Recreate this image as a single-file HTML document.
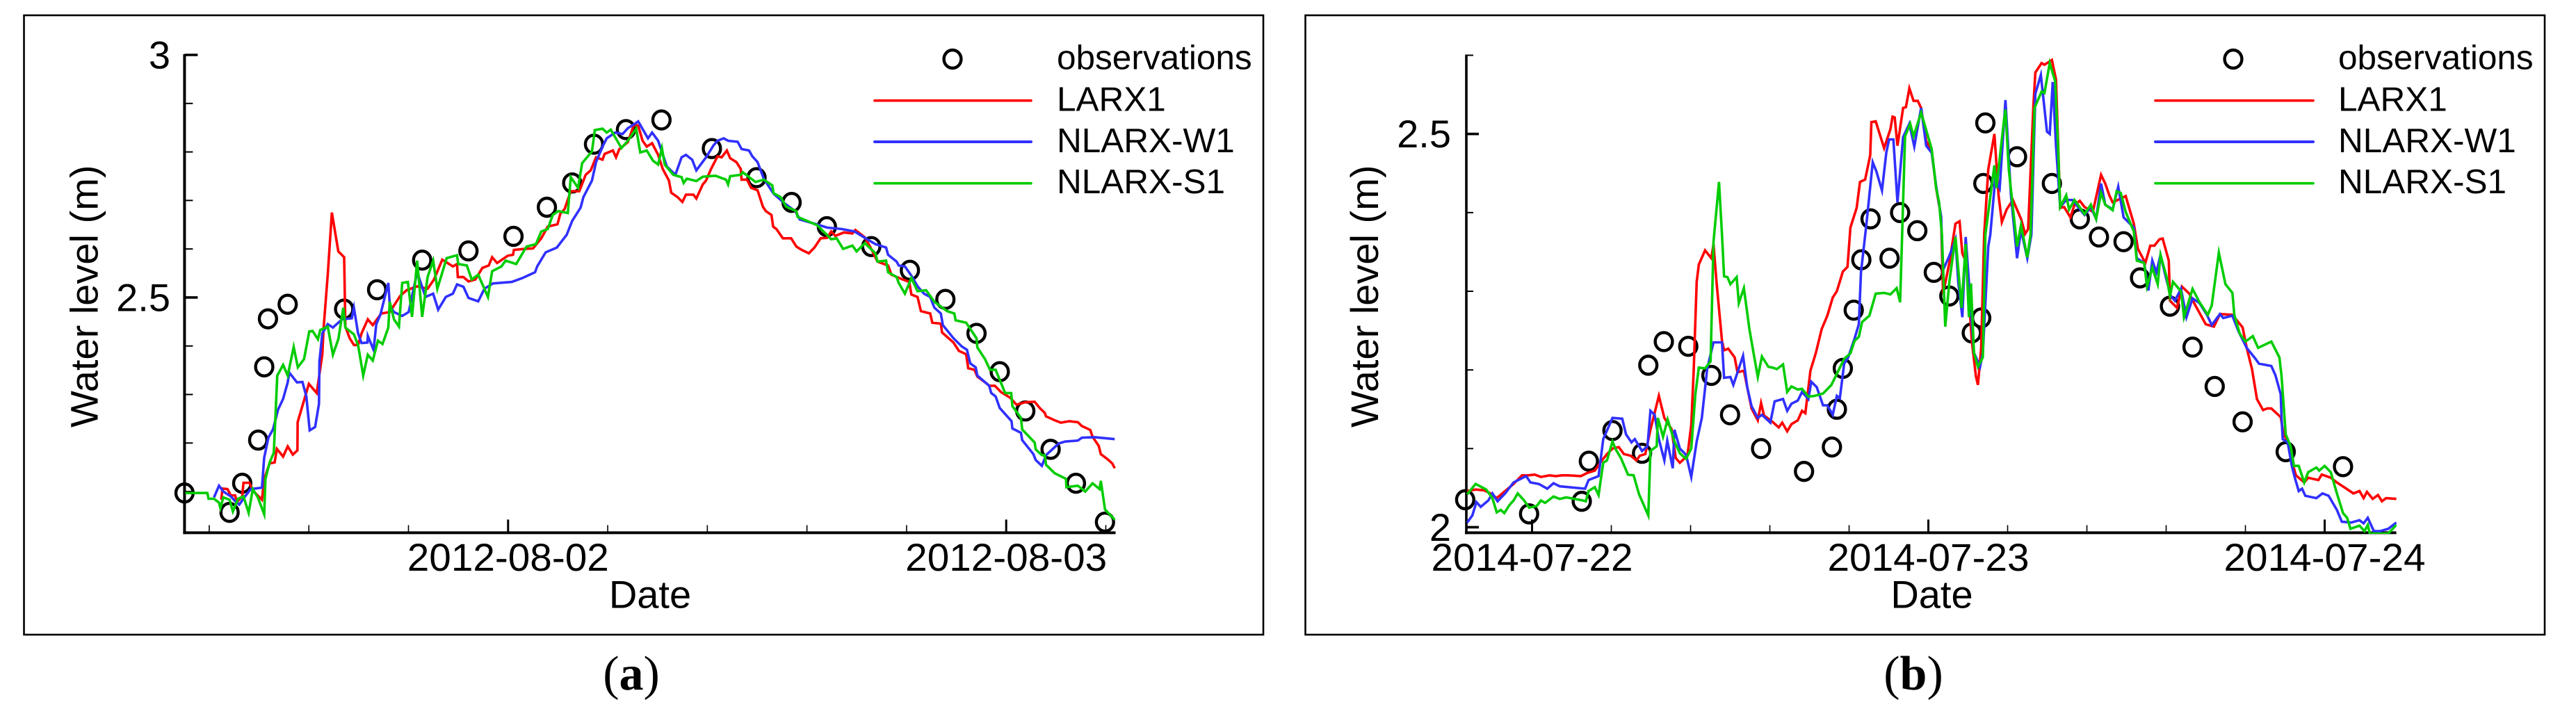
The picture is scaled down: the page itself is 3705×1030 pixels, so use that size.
<!DOCTYPE html>
<html lang="en">
<head>
<meta charset="utf-8">
<title>Water level observations and model predictions</title>
<style>
html,body{margin:0;padding:0;background:#fff;width:3705px;height:1030px;overflow:hidden}
svg{display:block;font-family:"Liberation Sans",sans-serif}
text{fill:#000}
.tick-label{font-size:56px}
.title{font-size:56px}
.legend-text{font-size:49.5px}
.caption{font-family:"Liberation Serif",serif;font-size:70px}
</style>
</head>
<body>
<svg id="figure" xmlns="http://www.w3.org/2000/svg" width="3705" height="1030" viewBox="0 0 3705 1030">
  <defs>
    <clipPath id="clip-a"><rect x="263" y="70" width="1342" height="698"/></clipPath>
    <clipPath id="clip-b"><rect x="2107" y="70" width="1340" height="698"/></clipPath>
  </defs>

  <g id="panel-a">
    <rect x="34.5" y="22" width="1782.5" height="891" fill="none" stroke="#000" stroke-width="2.6"/>
    <text class="title" transform="translate(140.5,615) rotate(-90)">Water level (m)</text>
    <text class="title" x="935" y="874.5" text-anchor="middle">Date</text>
    <g>
      <ellipse cx="1370" cy="85" rx="12.4" ry="13" fill="none" stroke="#000" stroke-width="4.4"/>
      <text class="legend-text" x="1520" y="99.5">observations</text>
      <line x1="1258" x2="1483" y1="144.7" y2="144.7" stroke="#ff0000" stroke-width="3.6" stroke-linecap="round"/>
      <text class="legend-text" x="1520" y="159.5">LARX1</text>
      <line x1="1258" x2="1483" y1="204" y2="204" stroke="#3030ff" stroke-width="4" stroke-linecap="round"/>
      <text class="legend-text" x="1520" y="219">NLARX-W1</text>
      <line x1="1258" x2="1483" y1="263.7" y2="263.7" stroke="#00cc00" stroke-width="3.6" stroke-linecap="round"/>
      <text class="legend-text" x="1520" y="278">NLARX-S1</text>
    </g>
    <text class="caption" x="908" y="992" text-anchor="middle">(<tspan font-weight="bold">a</tspan>)</text>
  </g>

  <g id="panel-b">
    <rect x="1877.5" y="22" width="1782.5" height="891" fill="none" stroke="#000" stroke-width="2.6"/>
    <text class="title" transform="translate(1982,615) rotate(-90)">Water level (m)</text>
    <text class="title" x="2778.5" y="874.5" text-anchor="middle">Date</text>
    <g>
      <ellipse cx="3212" cy="85" rx="12.4" ry="13" fill="none" stroke="#000" stroke-width="4.4"/>
      <text class="legend-text" x="3363" y="99.5">observations</text>
      <line x1="3100" x2="3327" y1="144.7" y2="144.7" stroke="#ff0000" stroke-width="3.6" stroke-linecap="round"/>
      <text class="legend-text" x="3363" y="159.5">LARX1</text>
      <line x1="3100" x2="3327" y1="204" y2="204" stroke="#3030ff" stroke-width="4" stroke-linecap="round"/>
      <text class="legend-text" x="3363" y="219">NLARX-W1</text>
      <line x1="3100" x2="3327" y1="263.7" y2="263.7" stroke="#00cc00" stroke-width="3.6" stroke-linecap="round"/>
      <text class="legend-text" x="3363" y="278">NLARX-S1</text>
    </g>
    <text class="caption" x="2752" y="992" text-anchor="middle">(<tspan font-weight="bold">b</tspan>)</text>
  </g>
</svg>

<script>
// Panel (a) axis ticks. Hours are measured from 2012-08-02 00:00.
const aMajorXHours = [0, 24];
const aMajorXLabels = ["2012-08-02", "2012-08-03"];
const aMinorXHours = [-14.4, -9.6, -4.8, 4.8, 9.6, 14.4, 19.2, 28.8];
const aMajorYLevels = [3, 2.5];
const aMajorYLabels = ["3", "2.5"];
const aMinorYLevels = [2.9, 2.8, 2.7, 2.6, 2.4, 2.3, 2.2, 2.1];

// Panel (a) observations
const aObsHours = [-15.59,-13.42,-12.81,-12.04,-11.75,-11.57,-10.62,-7.9,-6.31,-4.14,-1.91,0.26,1.87,3.09,4.14,5.68,7.39,9.82,11.97,13.66,15.36,17.5,19.36,21.07,22.57,23.69,24.92,26.14,27.36,28.76];
const aObsLevels = [2.097,2.057,2.117,2.206,2.357,2.456,2.486,2.476,2.516,2.577,2.596,2.626,2.686,2.736,2.816,2.846,2.866,2.807,2.747,2.696,2.646,2.605,2.556,2.496,2.426,2.347,2.266,2.187,2.117,2.037];

// Panel (a) LARX1
const aLarxHours = [-13.82,-13.76,-13.52,-13.36,-13.15,-13.07,-12.81,-12.75,-12.46,-12.3,-11.86,-11.75,-11.49,-11.25,-11.14,-10.84,-10.62,-10.37,-10.15,-10.14,-9.83,-9.6,-9.22,-8.95,-8.89,-8.69,-8.49,-8.18,-7.9,-7.84,-7.63,-7.43,-7.23,-7.06,-6.76,-6.52,-6.11,-5.7,-5.2,-4.89,-4.38,-3.88,-3.57,-3.17,-2.66,-2.46,-2.42,-2.15,-1.91,-1.58,-1.24,-0.93,-0.77,-0.53,-0.02,0.24,0.28,0.79,1.2,1.6,1.91,2.38,2.52,2.72,3.02,3.43,3.74,3.98,4.24,4.55,4.65,5.05,5.2,5.36,5.77,6.07,6.27,6.48,6.68,6.94,7.23,7.45,7.75,7.86,8.16,8.4,8.57,8.93,9.07,9.38,9.54,9.78,10.09,10.29,10.54,10.7,11,11.21,11.25,11.51,11.71,12.02,12.28,12.42,12.69,12.77,12.93,13.24,13.64,13.89,14.15,14.49,14.76,15.06,15.37,15.57,15.77,16.18,16.59,16.73,17.19,17.5,17.8,18.31,18.47,19.02,19.33,19.43,19.73,19.89,20.34,20.44,20.85,20.91,21.46,21.72,22.07,22.17,22.47,22.61,23.08,23.18,23.45,23.75,24.2,24.5,24.91,25.37,25.62,25.86,25.92,26.33,26.63,27.04,27.45,27.65,28.05,28.16,28.46,28.56,28.87,29.11,29.23];
const aLarxLevels = [2.083,2.106,2.105,2.092,2.092,2.078,2.09,2.118,2.118,2.102,2.083,2.126,2.158,2.16,2.188,2.172,2.193,2.176,2.185,2.243,2.288,2.322,2.303,2.383,2.436,2.547,2.675,2.595,2.583,2.44,2.416,2.402,2.402,2.426,2.455,2.443,2.467,2.47,2.503,2.515,2.523,2.518,2.537,2.578,2.564,2.569,2.542,2.542,2.533,2.537,2.561,2.566,2.583,2.571,2.586,2.588,2.598,2.6,2.601,2.622,2.646,2.651,2.673,2.682,2.719,2.719,2.753,2.762,2.789,2.784,2.796,2.803,2.789,2.806,2.82,2.857,2.854,2.823,2.811,2.818,2.794,2.765,2.741,2.716,2.707,2.697,2.712,2.712,2.704,2.733,2.741,2.765,2.791,2.789,2.803,2.787,2.779,2.765,2.743,2.743,2.726,2.721,2.687,2.678,2.67,2.646,2.641,2.622,2.622,2.605,2.598,2.591,2.603,2.622,2.623,2.636,2.627,2.634,2.632,2.639,2.624,2.6,2.574,2.566,2.547,2.537,2.532,2.506,2.501,2.472,2.467,2.448,2.446,2.428,2.407,2.39,2.383,2.354,2.351,2.337,2.322,2.318,2.318,2.305,2.293,2.279,2.284,2.285,2.272,2.262,2.255,2.247,2.242,2.245,2.243,2.235,2.227,2.213,2.194,2.177,2.167,2.158,2.148];

// Panel (a) NLARX-W1
const aWaveHours = [-14.17,-13.93,-13.72,-13.36,-13.15,-12.95,-12.71,-12.4,-11.86,-11.75,-11.55,-11.33,-11.08,-10.84,-10.62,-10.54,-10.17,-9.91,-9.72,-9.56,-9.3,-9.11,-9.09,-8.95,-8.69,-8.44,-8,-7.53,-7.43,-7.23,-7.06,-6.78,-6.76,-6.48,-6.35,-6.15,-5.77,-5.7,-5.5,-5.1,-4.79,-4.38,-3.98,-3.61,-3.37,-3,-2.66,-2.46,-2.15,-1.91,-1.44,-1.14,-0.73,0.18,0.69,1.3,1.4,1.81,2.35,2.82,3.09,3.49,3.63,4.04,4.24,4.55,4.75,5.16,5.52,5.77,6.07,6.27,6.74,6.94,7.23,7.65,8.06,8.36,8.57,8.87,9.07,9.54,9.89,10.09,10.39,10.6,11.06,11.25,11.61,11.77,12.02,12.32,12.79,13.24,13.54,13.84,14.05,14.45,14.86,15.37,16.08,16.69,17.3,17.7,18.21,18.31,18.72,18.82,19.12,19.43,19.73,20.04,20.34,20.54,20.85,20.95,21.46,21.86,22.11,22.27,22.53,22.61,23.18,23.28,23.49,23.69,24.26,24.3,24.71,24.77,25.31,25.42,25.72,25.92,26.53,26.84,27.45,27.65,28.26,29.23];
const aWaveLevels = [2.088,2.112,2.1,2.09,2.08,2.073,2.088,2.105,2.108,2.17,2.211,2.228,2.269,2.291,2.325,2.345,2.325,2.326,2.296,2.226,2.233,2.281,2.368,2.426,2.445,2.438,2.455,2.457,2.479,2.426,2.406,2.407,2.421,2.392,2.445,2.465,2.53,2.484,2.47,2.462,2.47,2.552,2.501,2.508,2.475,2.501,2.508,2.527,2.522,2.499,2.492,2.518,2.529,2.532,2.54,2.552,2.564,2.593,2.603,2.629,2.658,2.685,2.707,2.741,2.779,2.811,2.828,2.84,2.837,2.849,2.857,2.863,2.828,2.84,2.823,2.77,2.753,2.789,2.794,2.784,2.762,2.789,2.813,2.823,2.828,2.823,2.821,2.806,2.803,2.791,2.779,2.745,2.714,2.697,2.687,2.678,2.661,2.656,2.651,2.644,2.641,2.636,2.62,2.61,2.603,2.588,2.574,2.566,2.564,2.545,2.523,2.508,2.501,2.479,2.467,2.443,2.416,2.399,2.392,2.364,2.356,2.339,2.318,2.303,2.296,2.272,2.245,2.23,2.221,2.206,2.177,2.165,2.153,2.175,2.199,2.203,2.205,2.211,2.212,2.208];

// Panel (a) NLARX-S1
const aSigHours = [-15.55,-14.49,-14.43,-14.17,-13.93,-13.86,-13.72,-13.42,-13.26,-13.01,-12.75,-12.5,-12.3,-12.06,-11.75,-11.69,-11.49,-11.29,-11.12,-10.84,-10.62,-10.33,-10.13,-9.83,-9.58,-9.42,-9.16,-9.05,-8.69,-8.44,-8.18,-7.94,-7.84,-7.43,-7.23,-6.98,-6.76,-6.52,-6.27,-6.05,-5.77,-5.7,-5.5,-5.26,-5.1,-4.83,-4.63,-4.38,-4.14,-3.88,-3.61,-3.41,-2.96,-2.46,-2.4,-1.99,-1.75,-1.44,-0.97,-0.77,-0.32,-0.12,0.39,0.89,1.34,1.6,1.91,2.15,2.42,2.88,3.02,3.37,3.57,4.04,4.18,4.55,4.75,4.95,5.46,5.77,6.17,6.37,6.68,6.98,7.23,7.41,7.55,7.96,8.36,8.46,8.61,9.07,9.38,9.99,10.5,10.6,10.7,11.21,11.31,11.92,12.32,12.73,12.79,13.13,13.4,13.89,13.95,14.35,14.9,15.57,15.83,16.14,16.59,16.79,17.19,17.7,17.8,18.21,18.31,18.72,18.82,19.12,19.43,19.73,20.14,20.54,21.15,21.5,21.56,22.07,22.57,22.61,22.98,23.22,23.49,23.95,24.24,24.3,24.71,24.77,25.37,25.42,25.72,25.86,25.92,26.33,26.88,26.9,27.45,27.81,28.16,28.5,28.56,28.76,29.23];
const aSigLevels = [2.097,2.097,2.085,2.085,2.077,2.066,2.088,2.083,2.059,2.085,2.09,2.056,2.105,2.088,2.053,2.126,2.16,2.18,2.339,2.361,2.339,2.398,2.356,2.373,2.43,2.431,2.414,2.433,2.44,2.382,2.414,2.479,2.438,2.424,2.402,2.339,2.382,2.37,2.411,2.404,2.438,2.491,2.455,2.44,2.53,2.532,2.46,2.576,2.46,2.542,2.576,2.518,2.581,2.587,2.569,2.566,2.537,2.547,2.501,2.554,2.564,2.576,2.569,2.605,2.61,2.636,2.641,2.67,2.678,2.674,2.748,2.726,2.777,2.801,2.845,2.848,2.84,2.846,2.808,2.823,2.848,2.799,2.803,2.782,2.774,2.808,2.774,2.753,2.748,2.736,2.745,2.74,2.749,2.751,2.743,2.733,2.75,2.753,2.758,2.738,2.743,2.731,2.715,2.707,2.687,2.678,2.666,2.659,2.649,2.62,2.622,2.6,2.607,2.595,2.612,2.591,2.574,2.576,2.552,2.542,2.53,2.508,2.54,2.513,2.515,2.491,2.472,2.467,2.453,2.448,2.416,2.397,2.373,2.351,2.351,2.303,2.303,2.276,2.252,2.228,2.201,2.187,2.175,2.175,2.155,2.138,2.126,2.109,2.112,2.1,2.117,2.105,2.122,2.063,2.042];

// Panel (b) axis ticks. Hours are measured from 2014-07-22 00:00.
const bMajorXHours = [0, 24, 48];
const bMajorXLabels = ["2014-07-22", "2014-07-23", "2014-07-24"];
const bMinorXHours = [4.8, 9.6, 14.4, 19.2, 28.8, 33.6, 38.4, 43.2];
const bMajorYLevels = [2.5, 2];
const bMajorYLabels = ["2.5", "2"];
const bMinorYLevels = [2.6, 2.4, 2.3, 2.2, 2.1];

// Panel (b) observations
const bObsHours = [-4.05,-0.18,3.01,3.44,4.87,6.66,7.04,7.98,9.46,10.86,11.99,13.87,16.47,18.16,18.46,18.82,19.48,19.94,20.5,21.65,22.29,23.33,24.33,25.27,26.63,27.2,27.33,27.45,29.37,31.48,33.17,34.33,35.82,36.82,38.63,40,41.34,43.03,45.64,49.11];
const bObsLevels = [2.035,2.017,2.033,2.084,2.123,2.094,2.206,2.236,2.23,2.193,2.143,2.1,2.071,2.102,2.15,2.202,2.276,2.34,2.392,2.342,2.4,2.377,2.324,2.294,2.247,2.266,2.437,2.514,2.471,2.437,2.392,2.369,2.363,2.317,2.281,2.229,2.179,2.134,2.096,2.077];

// Panel (b) LARX1
const bLarxHours = [-3.93,-3.42,-2.91,-2.52,-2.14,-1.63,-1.12,-0.61,-0.23,0.15,0.54,1.05,1.43,1.81,2.19,2.96,3.34,3.8,4.03,4.23,4.54,4.87,5.25,5.56,5.97,6.32,6.53,6.86,7.17,7.68,8.01,8.44,8.7,8.95,9.41,9.64,9.79,9.97,10.1,10.48,10.86,10.99,11.17,11.5,11.63,11.88,12.27,12.44,12.83,13.03,13.29,13.67,13.87,14.05,14.56,14.94,15.15,15.45,15.71,16.09,16.35,16.55,16.86,17.19,17.54,17.88,18.21,18.46,18.82,19.1,19.28,19.66,19.86,20.17,20.48,20.55,20.81,21.32,21.7,21.83,21.96,22.13,22.47,22.64,22.85,23.1,23.36,23.56,23.87,24.2,24.47,24.77,24.89,25.27,25.64,25.89,26.06,26.38,26.51,26.63,26.88,27,27.2,27.38,27.63,28,28.25,28.45,28.74,29.12,29.61,29.86,30.04,30.36,30.48,30.86,31.03,31.48,31.73,31.85,31.98,32.22,32.6,32.85,33.17,33.46,33.96,34.46,34.71,34.96,35.16,35.95,36.44,36.69,37.14,37.44,37.69,37.99,38.19,38.56,38.63,39.06,39.35,39.8,40.17,40.8,41.29,41.66,42.41,43.03,43.28,43.6,43.9,44.27,44.52,44.77,45.34,45.51,45.94,46.08,46.26,46.76,47,47.62,47.82,48.37,48.74,49.24,49.74,50.11,50.36,50.56,50.91,51.23,51.47,51.72,52.34];
const bLarxLevels = [2.046,2.048,2.047,2.043,2.037,2.046,2.055,2.066,2.066,2.067,2.064,2.066,2.065,2.066,2.066,2.065,2.069,2.072,2.079,2.085,2.093,2.1,2.102,2.093,2.091,2.085,2.091,2.093,2.124,2.167,2.139,2.125,2.088,2.082,2.091,2.13,2.199,2.312,2.334,2.352,2.342,2.36,2.312,2.237,2.225,2.227,2.216,2.197,2.199,2.178,2.151,2.136,2.158,2.142,2.134,2.127,2.133,2.122,2.131,2.136,2.148,2.145,2.199,2.222,2.252,2.269,2.292,2.3,2.325,2.331,2.381,2.406,2.439,2.442,2.473,2.515,2.516,2.482,2.506,2.522,2.521,2.485,2.533,2.534,2.558,2.542,2.542,2.533,2.491,2.479,2.431,2.395,2.297,2.336,2.386,2.389,2.348,2.333,2.276,2.237,2.192,2.181,2.228,2.372,2.455,2.5,2.422,2.388,2.404,2.416,2.392,2.373,2.379,2.536,2.578,2.59,2.588,2.594,2.569,2.491,2.406,2.407,2.394,2.41,2.415,2.407,2.401,2.448,2.437,2.422,2.413,2.421,2.386,2.354,2.336,2.358,2.358,2.366,2.367,2.339,2.288,2.279,2.306,2.297,2.282,2.258,2.255,2.271,2.27,2.254,2.228,2.201,2.163,2.149,2.151,2.151,2.14,2.118,2.103,2.079,2.066,2.057,2.063,2.06,2.067,2.063,2.057,2.05,2.043,2.046,2.037,2.045,2.036,2.041,2.033,2.037,2.036];

// Panel (b) NLARX-W1
const bWaveHours = [-3.93,-3.62,-3.37,-3.11,-2.65,-2.4,-2.09,-1.63,-1.12,-0.36,-0.1,0.41,0.92,1.3,1.68,3.21,3.42,4.03,4.31,4.87,5.46,5.69,6.02,6.22,6.66,6.99,7.17,7.42,7.68,8.01,8.19,8.52,8.62,8.95,9.33,9.64,9.97,10.28,10.61,10.99,11.5,11.63,12.01,12.19,12.78,13.03,13.29,13.67,13.92,14.43,14.69,15.2,15.45,15.71,16.09,16.35,16.73,16.91,17.24,17.62,17.88,18.21,18.46,18.64,18.9,19.15,19.53,19.79,19.92,20.25,20.63,20.86,21.19,21.45,21.62,21.88,22.13,22.47,22.85,23.15,23.56,23.87,24.2,24.47,24.77,24.89,25.27,25.64,25.81,26.06,26.26,26.56,26.76,27.13,27.3,27.63,27.75,28.05,28.32,28.67,29,29.37,29.61,29.99,30.24,30.48,30.81,31.18,31.35,31.53,31.73,31.98,32.35,32.72,33.46,33.84,34.16,34.46,34.71,35.16,35.5,35.82,36.44,36.62,37.07,37.32,37.56,37.81,38.06,38.38,38.68,38.93,39.3,39.63,40,40.42,40.87,41.16,41.66,41.86,42.41,42.78,43.28,43.78,44.02,44.77,45.02,45.34,45.39,45.46,45.76,46.01,46.18,46.43,46.63,46.83,47.5,47.87,48.24,48.74,49.04,49.61,50.11,50.36,50.61,50.98,51.35,51.85,52.34];
const bWaveLevels = [2.006,2.015,2.032,2.026,2.034,2.043,2.033,2.043,2.057,2.065,2.057,2.055,2.049,2.056,2.052,2.049,2.06,2.065,2.112,2.139,2.138,2.118,2.108,2.112,2.097,2.103,2.148,2.143,2.112,2.085,2.11,2.075,2.124,2.1,2.092,2.064,2.109,2.139,2.202,2.235,2.235,2.19,2.191,2.181,2.218,2.178,2.154,2.139,2.143,2.133,2.16,2.163,2.148,2.157,2.161,2.172,2.163,2.185,2.178,2.155,2.155,2.143,2.167,2.164,2.208,2.216,2.24,2.258,2.324,2.386,2.464,2.452,2.428,2.476,2.493,2.493,2.413,2.496,2.513,2.484,2.533,2.485,2.476,2.434,2.395,2.327,2.345,2.366,2.312,2.267,2.369,2.282,2.222,2.204,2.222,2.357,2.372,2.443,2.431,2.543,2.422,2.342,2.378,2.342,2.372,2.551,2.575,2.503,2.5,2.566,2.485,2.407,2.416,2.416,2.397,2.407,2.392,2.437,2.41,2.404,2.433,2.394,2.381,2.342,2.336,2.301,2.339,2.324,2.346,2.318,2.294,2.288,2.303,2.267,2.291,2.285,2.27,2.257,2.271,2.266,2.269,2.249,2.228,2.215,2.208,2.205,2.193,2.169,2.139,2.112,2.108,2.078,2.064,2.046,2.049,2.04,2.037,2.043,2.04,2.022,2.007,2.006,2.009,2.005,2.012,1.995,1.995,1.998,2.006];

// Panel (b) NLARX-S1
const bSigHours = [-3.93,-3.42,-2.78,-2.4,-2.14,-1.89,-1.68,-1.38,-1.12,-0.87,-0.48,-0.18,0.28,0.54,0.79,1.3,1.68,2.07,3.09,3.26,3.42,3.8,4.03,4.31,4.54,4.87,5.07,5.38,5.81,6.15,6.48,7.04,7.17,7.55,7.62,7.93,8.21,8.62,8.95,9.33,9.64,9.89,10.1,10.48,10.81,10.99,11.32,11.5,11.63,11.83,12.01,12.39,12.52,12.83,13.16,13.41,13.67,13.92,14.31,14.56,14.82,15.2,15.45,15.71,16.09,16.35,16.73,17.11,17.62,18.13,18.9,19.28,19.53,19.79,19.99,20.43,20.81,21.32,21.7,22.08,22.29,22.59,22.9,23.1,23.56,24.2,24.47,24.65,24.82,25.02,25.27,25.64,26.01,26.26,26.46,26.58,26.76,27,27.3,27.45,28,28.12,28.55,28.67,28.87,29.37,29.61,29.99,30.19,30.43,30.86,31.03,31.35,31.68,31.85,31.98,32.35,32.52,32.85,33.46,33.84,34.16,34.46,34.71,35.16,35.4,35.65,35.95,36.44,36.62,37.07,37.24,37.56,37.89,38.06,38.43,38.63,38.81,39.3,39.48,40,40.42,40.92,41.16,41.59,41.99,42.41,42.53,42.86,43.2,43.65,43.97,44.77,45.26,45.39,45.64,45.94,46.14,46.43,46.76,47,47.5,47.67,48,48.37,48.74,49.11,49.36,49.56,50.11,50.41,50.61,50.73,51.85,52.34];
const bSigLevels = [2.042,2.055,2.048,2.037,2.019,2.022,2.018,2.028,2.034,2.043,2.034,2.025,2.027,2.034,2.031,2.039,2.036,2.038,2.034,2.033,2.046,2.051,2.041,2.082,2.085,2.109,2.099,2.088,2.067,2.066,2.042,2.015,2.097,2.103,2.139,2.115,2.137,2.109,2.094,2.087,2.1,2.169,2.203,2.202,2.211,2.363,2.439,2.372,2.319,2.318,2.309,2.318,2.285,2.304,2.252,2.222,2.191,2.217,2.204,2.203,2.201,2.207,2.172,2.179,2.175,2.176,2.166,2.167,2.17,2.181,2.214,2.221,2.237,2.242,2.261,2.269,2.297,2.298,2.296,2.304,2.286,2.497,2.513,2.497,2.527,2.481,2.431,2.413,2.372,2.255,2.312,2.369,2.279,2.36,2.267,2.31,2.222,2.204,2.216,2.372,2.46,2.431,2.512,2.531,2.455,2.357,2.384,2.343,2.372,2.533,2.554,2.552,2.59,2.567,2.485,2.407,2.422,2.404,2.416,2.398,2.41,2.392,2.425,2.41,2.403,2.427,2.425,2.401,2.376,2.339,2.336,2.306,2.33,2.309,2.346,2.318,2.294,2.312,2.3,2.267,2.303,2.286,2.27,2.282,2.349,2.309,2.298,2.27,2.246,2.236,2.243,2.228,2.236,2.216,2.192,2.118,2.103,2.078,2.078,2.057,2.07,2.076,2.072,2.078,2.07,2.043,2.018,2.012,1.998,2.002,1.995,2.003,1.992,1.992,2.003];

const SVG_NS = "http://www.w3.org/2000/svg";

function linearScale(domain, range) {
  return function (value) {
    return range[0] + (value - domain[0]) / (domain[1] - domain[0]) * (range[1] - range[0]);
  };
}

function addSvg(parent, tag, attrs) {
  const el = document.createElementNS(SVG_NS, tag);
  Object.keys(attrs).forEach(function (key) { el.setAttribute(key, attrs[key]); });
  parent.appendChild(el);
  return el;
}

function drawPanel(cfg) {
  const root = document.getElementById(cfg.id);
  const xScale = linearScale(cfg.xDomain, cfg.xRange);
  const yScale = linearScale(cfg.yDomain, cfg.yRange);

  const axisGroup = addSvg(root, "g", {});
  
  

  const yAxis = addSvg(axisGroup, "line", { x1: cfg.xRange[0], x2: cfg.xRange[0], y1: cfg.yRange[1] - 1, y2: cfg.yRange[0] + 2, stroke: "#000", "stroke-width": cfg.yAxisWidth });
  
  

  const xAxis = addSvg(axisGroup, "line", { x1: cfg.xRange[0] - 2, x2: cfg.xRange[1], y1: cfg.yRange[0], y2: cfg.yRange[0], stroke: "#000", "stroke-width": 4 });
  
  

  cfg.minorY.forEach(function (level) {
    const tick = addSvg(axisGroup, "line", { x1: cfg.xRange[0], x2: cfg.xRange[0] + cfg.minorYLen, y1: yScale(level), y2: yScale(level), stroke: "#000", "stroke-width": 2 });
    
    
  });

  cfg.majorY.forEach(function (level, i) {
    const tick = addSvg(axisGroup, "line", { x1: cfg.xRange[0], x2: cfg.xRange[0] + cfg.majorYLen, y1: yScale(level), y2: yScale(level), stroke: "#000", "stroke-width": 3.6 });
    
    
    const label = addSvg(axisGroup, "text", { x: cfg.yLabelX, y: yScale(level) + 19.5, "text-anchor": "end", "class": "tick-label" });
    
    
    label.textContent = cfg.majorYLabels[i];
  });

  cfg.minorX.forEach(function (hour) {
    const tick = addSvg(axisGroup, "line", { x1: xScale(hour), x2: xScale(hour), y1: cfg.yRange[0], y2: cfg.yRange[0] - 11, stroke: "#000", "stroke-width": 1.6 });
    
    
  });

  cfg.majorX.forEach(function (hour, i) {
    const tick = addSvg(axisGroup, "line", { x1: xScale(hour), x2: xScale(hour), y1: cfg.yRange[0], y2: cfg.yRange[0] - 19, stroke: "#000", "stroke-width": 3 });
    
    
    const label = addSvg(axisGroup, "text", { x: xScale(hour), y: 821, "text-anchor": "middle", "class": "tick-label", textLength: 290, lengthAdjust: "spacingAndGlyphs" });
    
    
    label.textContent = cfg.majorXLabels[i];
  });

  const obsGroup = addSvg(root, "g", {});
  
  
  cfg.obsHours.forEach(function (hour, i) {
    const dot = addSvg(obsGroup, "ellipse", { cx: xScale(hour), cy: yScale(cfg.obsLevels[i]), rx: 12.4, ry: 13, fill: "none", stroke: "#000", "stroke-width": 4.4 });
    
    
  });

  function drawLine(hours, levels, color, width) {
    const pts = hours.map(function (hour, i) {
      return xScale(hour).toFixed(1) + "," + yScale(levels[i]).toFixed(1);
    }).join(" ");
    return addSvg(root, "polyline", { points: pts, fill: "none", stroke: color, "stroke-width": width, "stroke-linejoin": "miter", "stroke-miterlimit": 6, "clip-path": "url(#" + cfg.clip + ")" });
  }

  const redLine = drawLine(cfg.larxHours, cfg.larxLevels, "#ff0000", 3.6);
  
  

  const blueLine = drawLine(cfg.waveHours, cfg.waveLevels, "#3030ff", 3.6);
  
  

  const greenLine = drawLine(cfg.sigHours, cfg.sigLevels, "#00cc00", 3.6);
  
  
}

drawPanel({
  id: "panel-a", clip: "clip-a",
  xDomain: [-15.59, 29.27], xRange: [265.4, 1604.5],
  yDomain: [2.015, 3], yRange: [766.4, 79],
  yAxisWidth: 4, majorYLen: 19, minorYLen: 12, yLabelX: 245,
  majorX: aMajorXHours, majorXLabels: aMajorXLabels, minorX: aMinorXHours,
  majorY: aMajorYLevels, majorYLabels: aMajorYLabels, minorY: aMinorYLevels,
  obsHours: aObsHours, obsLevels: aObsLevels,
  larxHours: aLarxHours, larxLevels: aLarxLevels,
  waveHours: aWaveHours, waveLevels: aWaveLevels,
  sigHours: aSigHours, sigLevels: aSigLevels
});

drawPanel({
  id: "panel-b", clip: "clip-b",
  xDomain: [-3.98, 52.34], xRange: [2109, 3446.6],
  yDomain: [1.993, 2.6], yRange: [766.4, 79.5],
  yAxisWidth: 3.6, majorYLen: 18, minorYLen: 10, yLabelX: 2087,
  majorX: bMajorXHours, majorXLabels: bMajorXLabels, minorX: bMinorXHours,
  majorY: bMajorYLevels, majorYLabels: bMajorYLabels, minorY: bMinorYLevels,
  obsHours: bObsHours, obsLevels: bObsLevels,
  larxHours: bLarxHours, larxLevels: bLarxLevels,
  waveHours: bWaveHours, waveLevels: bWaveLevels,
  sigHours: bSigHours, sigLevels: bSigLevels
});
</script>
</body>
</html>
